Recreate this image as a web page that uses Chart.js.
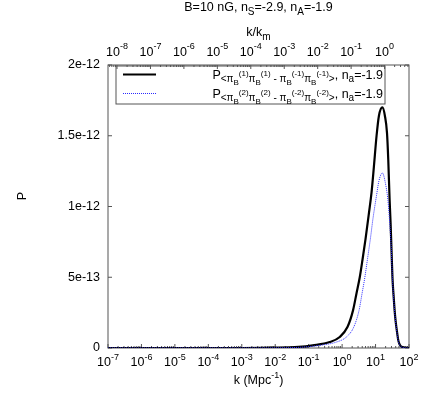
<!DOCTYPE html>
<html><head><meta charset="utf-8">
<script src="https://cdn.jsdelivr.net/npm/chart.js@4"></script>
<style>html,body{margin:0;padding:0;background:#fff;}</style>
</head><body>
<canvas id="c" width="429" height="401"></canvas>
<script>
// k in Mpc^-1, P in units of 1e-12
const kBlack = [1e-7,1e-6,1e-5,1e-4,1e-3,0.01,0.05,0.132,0.427,0.851,1.445,2.12,2.68,3.37,4.05,5.01,6.31,7.59,8.91,10.72,12.59,16.03,19.05,21.98,23.99,26.30,28.18,30.20,31.99,33.88,37.15,39.81,44.67,47.86,52.48,63.10,100];
const pBlack = [0,0,0,0,0,0.002,0.008,0.019,0.042,0.078,0.148,0.266,0.384,0.50,0.62,0.77,0.95,1.10,1.28,1.50,1.64,1.70,1.64,1.52,1.33,1.05,0.88,0.67,0.50,0.40,0.266,0.19,0.10,0.054,0.025,0.006,0];
const kBlue = [1e-7,1e-6,1e-5,1e-4,1e-3,0.01,0.063,0.214,0.676,1.349,2.23,3.21,3.98,4.79,5.75,7.08,8.32,10.72,12.59,16.03,19.50,23.44,26.92,29.51,31.62,33.88,37.15,39.81,44.67,47.86,52.48,63.10,100];
const pBlue = [0,0,0,0,0,0.001,0.006,0.019,0.042,0.078,0.148,0.266,0.39,0.50,0.63,0.78,0.91,1.08,1.18,1.237,1.17,1.044,0.86,0.70,0.52,0.39,0.26,0.185,0.095,0.05,0.022,0.005,0];
const yTickValues = [0, 0.5, 1, 1.5, 2];
const yTickLabels = ['0','5e-13','1e-12','1.5e-12','2e-12'];
const xTickExponents = [-7,-6,-5,-4,-3,-2,-1,0,1,2];
const x2TickExponents = [-8,-7,-6,-5,-4,-3,-2,-1,0];
const kM = 18.6;
const legendNums = ['1','2'];

const FONT = '"Liberation Sans", Arial, Helvetica, sans-serif';

function rich(ctx, segs, x, y, align) {
  let w = 0;
  for (const s of segs) { ctx.font = s[1] + 'px ' + FONT; w += ctx.measureText(s[0]).width; }
  let cx = align === 'center' ? x - w / 2 : (align === 'right' ? x - w : x);
  ctx.textAlign = 'left'; ctx.textBaseline = 'alphabetic';
  for (const s of segs) {
    ctx.font = s[1] + 'px ' + FONT;
    ctx.fillText(s[0], cx, y + s[2]);
    cx += ctx.measureText(s[0]).width;
  }
}

const decor = {
  id: 'decor',
  beforeDatasetsDraw(chart) {
    const ctx = chart.ctx, a = chart.chartArea;
    const xs = chart.scales.x, x2 = chart.scales.x2, ys = chart.scales.y;
    ctx.save();
    ctx.strokeStyle = '#555'; ctx.lineWidth = 1;
    ctx.strokeRect(a.left, a.top, a.right - a.left, a.bottom - a.top);
    ctx.beginPath();
    for (const e of xTickExponents) {
      const px = xs.getPixelForValue(Math.pow(10, e));
      ctx.moveTo(px, a.bottom); ctx.lineTo(px, a.bottom - 4);
      if (e < 2) for (let m = 2; m <= 9; m++) {
        const p = xs.getPixelForValue(m * Math.pow(10, e));
        ctx.moveTo(p, a.bottom); ctx.lineTo(p, a.bottom - 2);
      }
    }
    for (let e = -9; e <= 0; e++) {
      const v = Math.pow(10, e);
      if (v >= x2.min && v <= x2.max) {
        const px = x2.getPixelForValue(v);
        ctx.moveTo(px, a.top); ctx.lineTo(px, a.top + 4);
      }
      for (let m = 2; m <= 9; m++) {
        const mv = m * v;
        if (mv >= x2.min && mv <= x2.max) {
          const p = x2.getPixelForValue(mv);
          ctx.moveTo(p, a.top); ctx.lineTo(p, a.top + 2);
        }
      }
    }
    for (const v of yTickValues) {
      const py = ys.getPixelForValue(v);
      ctx.moveTo(a.left, py); ctx.lineTo(a.left + 4, py);
      ctx.moveTo(a.right, py); ctx.lineTo(a.right - 4, py);
    }
    ctx.stroke();
    ctx.restore();
  },
  afterDraw(chart) {
    const ctx = chart.ctx, a = chart.chartArea;
    const xs = chart.scales.x, x2 = chart.scales.x2, ys = chart.scales.y;
    ctx.save();
    ctx.fillStyle = '#000';
    const cxp = (a.left + a.right) / 2;
    rich(ctx, [['B=10 nG, n',12.5,0],['S',10,3.5],['=-2.9, n',12.5,0],['A',10,3.5],['=-1.9',12.5,0]], cxp, 11, 'center');
    rich(ctx, [['k/k',12.5,0],['m',10,3.5]], cxp, 36, 'center');
    for (const e of x2TickExponents) {
      rich(ctx, [['10',12.5,0],[String(e),9,-7]], x2.getPixelForValue(Math.pow(10, e)), 55.5, 'center');
    }
    for (const e of xTickExponents) {
      rich(ctx, [['10',12.5,0],[String(e),9,-6]], xs.getPixelForValue(Math.pow(10, e)), 366, 'center');
    }
    rich(ctx, [['k (Mpc',12.5,0],['-1',9,-6],[')',12.5,0]], cxp, 384, 'center');
    ctx.font = '12.5px ' + FONT; ctx.textAlign = 'right'; ctx.textBaseline = 'middle';
    yTickValues.forEach((v, i) => ctx.fillText(yTickLabels[i], 100, ys.getPixelForValue(v)));
    ctx.save();
    ctx.translate(23, 196); ctx.rotate(-Math.PI / 2);
    ctx.textAlign = 'center'; ctx.textBaseline = 'middle';
    ctx.fillText('P', 0, 0);
    ctx.restore();
    ctx.strokeStyle = '#555'; ctx.lineWidth = 1;
    ctx.strokeRect(116, 66, 269, 38);
    const ds = chart.data.datasets;
    const order = [1, 0];
    legendNums.forEach((n, i) => {
      const d = ds[order[i]];
      const ly = 74.5 + i * 19;
      ctx.save();
      ctx.strokeStyle = d.borderColor; ctx.lineWidth = d.borderWidth;
      ctx.setLineDash(d.borderDash || []);
      ctx.beginPath(); ctx.moveTo(123, ly); ctx.lineTo(156, ly); ctx.stroke();
      ctx.restore();
      rich(ctx, [['P',12.5,0],['<\u03c0',10,3.5],['B',8,6.5],['('+n+')',8,-3],['\u03c0',10,3.5],['B',8,6.5],['('+n+')',8,-3],
                 [' - \u03c0',10,3.5],['B',8,6.5],['(-'+n+')',8,-3],['\u03c0',10,3.5],['B',8,6.5],['(-'+n+')',8,-3],['>',10,3.5],
                 [', n',12.5,0],['a',10,3.5],['=-1.9',12.5,0]], 383, ly + 4, 'right');
    });
    ctx.restore();
  }
};

new Chart(document.getElementById('c'), {
  type: 'line',
  data: {
    datasets: [
      { label: 'P2', data: kBlue.map((k, i) => ({ x: k, y: pBlue[i] })), borderColor: '#2a2aff', borderWidth: 1,
        borderDash: [1, 1], pointRadius: 0, fill: false, cubicInterpolationMode: 'monotone', order: 0, xAxisID: 'x', yAxisID: 'y' },
      { label: 'P1', data: kBlack.map((k, i) => ({ x: k, y: pBlack[i] })), borderColor: '#000000', borderWidth: 2.2,
        pointRadius: 0, fill: false, cubicInterpolationMode: 'monotone', order: 1, xAxisID: 'x', yAxisID: 'y' }
    ]
  },
  options: {
    responsive: false, animation: false, devicePixelRatio: 1,
    layout: { padding: { left: 108, right: 20, top: 65, bottom: 53 } },
    plugins: { legend: { display: false }, title: { display: false }, tooltip: { enabled: false } },
    scales: {
      x: { type: 'logarithmic', min: 1e-7, max: 1e2, display: false },
      x2: { type: 'logarithmic', position: 'top', min: 1e-7 / kM, max: 1e2 / kM, display: false },
      y: { type: 'linear', min: 0, max: 2, display: false }
    }
  },
  plugins: [decor]
});
</script>
</body></html>
